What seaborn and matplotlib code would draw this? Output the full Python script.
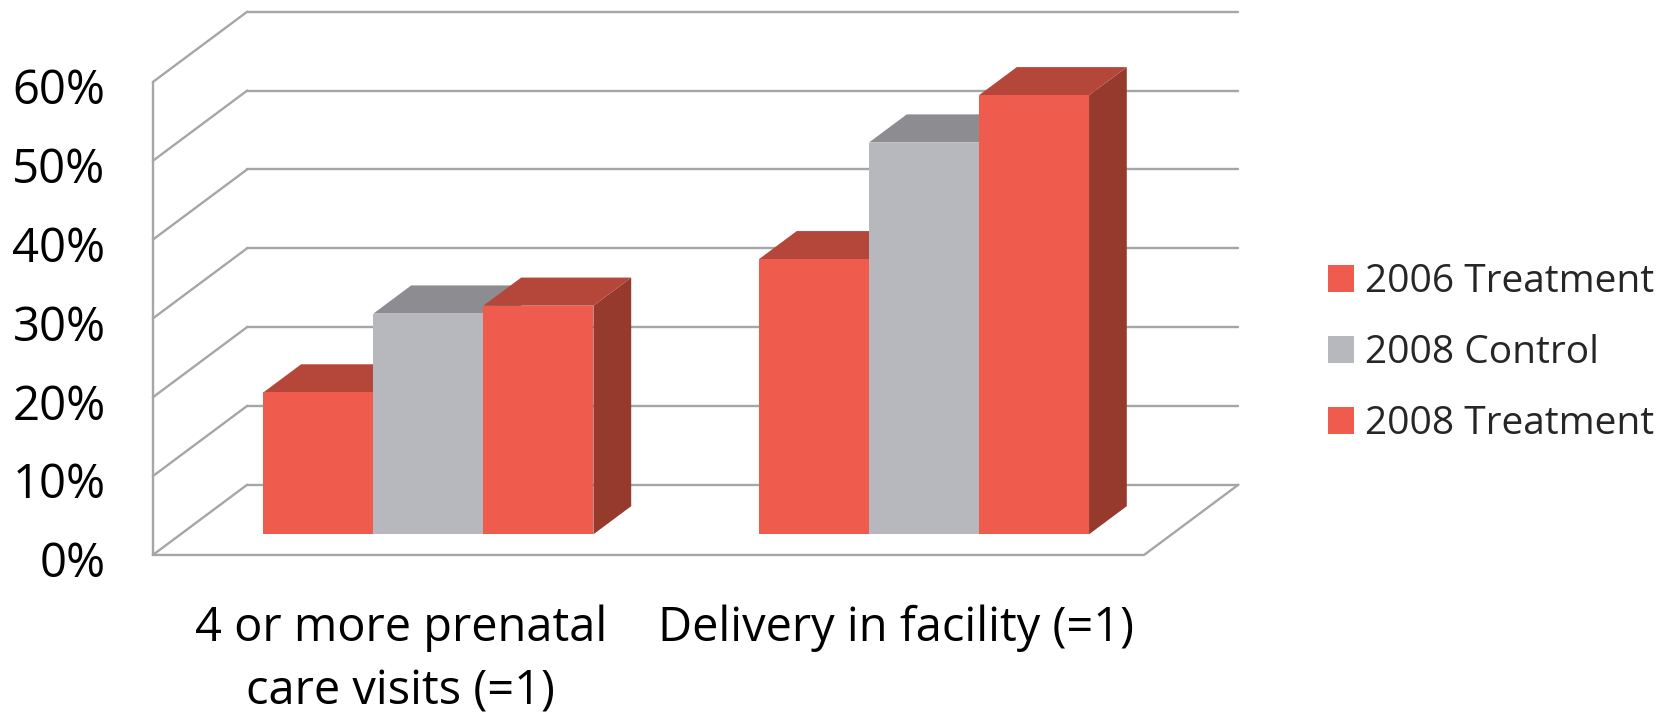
import matplotlib
matplotlib.use("Agg")
import matplotlib.pyplot as plt
from matplotlib.patches import Polygon
from matplotlib.colors import to_hex
from matplotlib.transforms import ScaledTranslation
import numpy as np
import pandas as pd
import seaborn as sns

# ---- data -------------------------------------------------------------
categories = ["4 or more prenatal\ncare visits (=1)", "Delivery in facility (=1)"]
series = ["2006 Treatment", "2008 Control", "2008 Treatment"]
treatment_2006 = [18.0, 34.9]
control_2008 = [28.0, 49.7]
treatment_2008 = [29.0, 55.7]
y_ticks = [0, 10, 20, 30, 40, 50, 60]
y_tick_labels = ["0%", "10%", "20%", "30%", "40%", "50%", "60%"]

# ---- styling ----------------------------------------------------------
RED, RED_TOP, RED_SIDE = "#EF5B4C", "#B5473A", "#973A2E"
GREY, GREY_TOP, GREY_SIDE = "#B7B8BD", "#8C8C91", "#77787D"
front_colors = {"2006 Treatment": RED, "2008 Control": GREY, "2008 Treatment": RED}
shade = {to_hex(RED): (RED_TOP, RED_SIDE), to_hex(GREY): (GREY_TOP, GREY_SIDE)}
GRID = "#A6A6A6"

sns.set_theme(style="white")
plt.rcParams["font.family"] = ["Open Sans", "DejaVu Sans"]
FS_AXIS = 34
FS_CAT = 33.8
FS_LEGEND = 28

# oblique "3-D" projection: full depth of the plot box and where the bars sit
DEPTH_X, DEPTH_Y = 0.1905, 8.92
FRONT_T, BAR_T = 0.294, 0.40
fx, fy = -FRONT_T * DEPTH_X, -FRONT_T * DEPTH_Y
bx, by = (1 - FRONT_T) * DEPTH_X, (1 - FRONT_T) * DEPTH_Y
bar_dx, bar_dy = BAR_T * DEPTH_X, BAR_T * DEPTH_Y

# ---- figure / axes ----------------------------------------------------
W, H = 1676, 712
fig = plt.figure(figsize=(W / 100, H / 100), dpi=100)
PX_X, PX_Y = 495.6, 7.883          # pixels per category unit / per percent
X0, Y0 = 428.4, 534.3              # pixel position of (0, 0)
xl, xr = -0.5 + fx, 1.5 + bx + 0.005
yb, yt = fy, 60 + by + 0.3
left = X0 + PX_X * xl
width = PX_X * (xr - xl)
bottom_from_top = Y0 - PX_Y * yb
height = PX_Y * (yt - yb)
ax = fig.add_axes([left / W, 1 - bottom_from_top / H, width / W, height / H])

df = pd.DataFrame({
    "category": categories * 3,
    "series": np.repeat(series, len(categories)),
    "value": treatment_2006 + control_2008 + treatment_2008,
})

sns.barplot(data=df, x="category", y="value", hue="series", hue_order=series,
            order=categories, palette=front_colors, saturation=1, width=0.666,
            gap=0, linewidth=0, edgecolor="none", ax=ax, legend=True)

# ---- walls and floor --------------------------------------------------
line_kw = dict(color=GRID, lw=1.7, zorder=1, clip_on=False, solid_capstyle="round")
fl, fr = -0.5 + fx, 1.5 + fx          # front-plane left / right
bl, br = -0.5 + bx, 1.5 + bx          # back-plane left / right
for k in y_ticks:
    ax.plot([bl, br], [k + by, k + by], **line_kw)           # back wall
    ax.plot([fl, bl], [k + fy, k + by], **line_kw)           # side wall
ax.plot([fl, fl], [fy, 60 + fy], **line_kw)                  # side wall front edge
ax.plot([fl, fr, br], [fy, fy, by], **line_kw)               # floor edges

# ---- bar tops and sides ----------------------------------------------
bars = sorted([p for p in ax.patches if p.get_height() > 0], key=lambda p: p.get_x())
for i, p in enumerate(bars):
    x0, w, h = p.get_x(), p.get_width(), p.get_height()
    top_c, side_c = shade[to_hex(p.get_facecolor())]
    side = Polygon([(x0 + w, 0), (x0 + w + bar_dx, bar_dy),
                    (x0 + w + bar_dx, h + bar_dy), (x0 + w, h)],
                   closed=True, facecolor=side_c, edgecolor="none", zorder=3 + 3 * i)
    top = Polygon([(x0, h), (x0 + w, h), (x0 + w + bar_dx, h + bar_dy),
                   (x0 + bar_dx, h + bar_dy)],
                  closed=True, facecolor=top_c, edgecolor="none", zorder=4 + 3 * i)
    ax.add_patch(side)
    ax.add_patch(top)
    p.set_zorder(5 + 3 * i)

# ---- axes, ticks ------------------------------------------------------
ax.set_xlim(xl, xr)
ax.set_ylim(yb, yt)
ax.set_yticks([k + fy for k in y_ticks], y_tick_labels)
ax.set_xticks([i + fx for i in range(len(categories))], categories)
ax.tick_params(axis="y", length=0, pad=34, labelsize=FS_AXIS, colors="black")
ax.tick_params(axis="x", length=0, pad=36, labelsize=FS_CAT, colors="black")
for lab in ax.get_xticklabels():
    lab.set_linespacing(1.42)
nudge = ScaledTranslation(0, -4 / 100, fig.dpi_scale_trans)
for lab in ax.get_yticklabels():
    lab.set_transform(lab.get_transform() + nudge)
ax.set_xlabel("")
ax.set_ylabel("")
for s in ax.spines.values():
    s.set_visible(False)
ax.set_facecolor("none")

sns.move_legend(ax, "center left", bbox_to_anchor=(1327.7 / W, 1 - 353 / H),
                bbox_transform=fig.transFigure, frameon=False, title=None,
                fontsize=FS_LEGEND, handlelength=0.67, handleheight=0.67,
                handletextpad=0.28, labelspacing=0.85, borderpad=0,
                borderaxespad=0)

fig.savefig("out.png", dpi=100, facecolor="white")
